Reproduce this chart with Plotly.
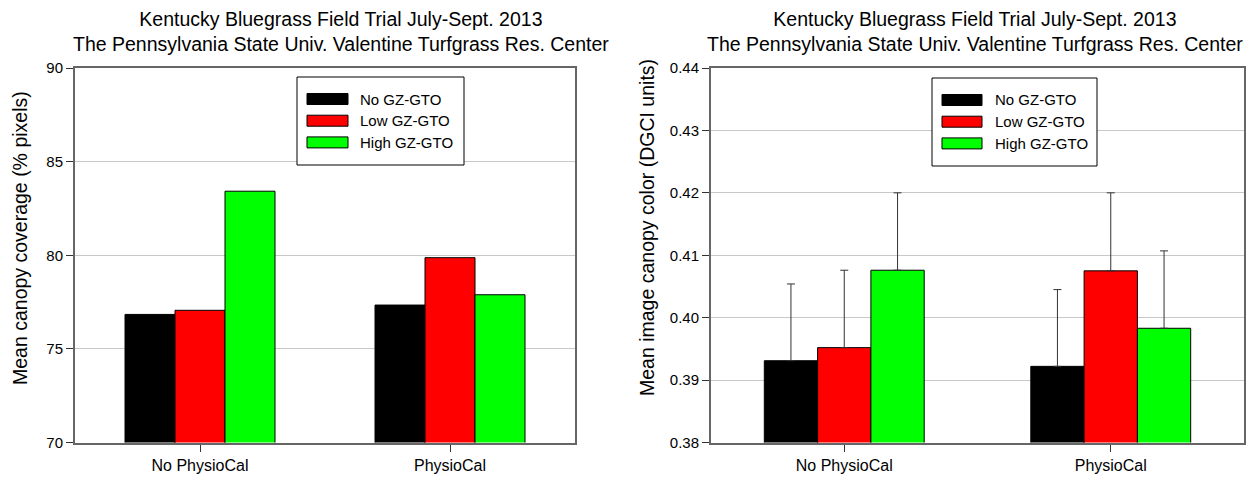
import plotly.graph_objects as go

# Treatments and series
categories = ["No PhysioCal", "PhysioCal"]
series_names = ["No GZ-GTO", "Low GZ-GTO", "High GZ-GTO"]
series_colors = ["#000000", "#ff0000", "#00ff00"]

# Mean canopy coverage (% pixels)
coverage_no_gz = [76.84, 77.34]
coverage_low_gz = [77.06, 79.87]
coverage_high_gz = [83.42, 77.89]

# Mean image canopy color (DGCI units) and upper error
dgci_no_gz = [0.3931, 0.3922]
dgci_low_gz = [0.3952, 0.4075]
dgci_high_gz = [0.4076, 0.3983]
dgci_err_no_gz = [0.0123, 0.0123]
dgci_err_low_gz = [0.0124, 0.0125]
dgci_err_high_gz = [0.0124, 0.0124]

coverage_ticks = [70, 75, 80, 85, 90]
dgci_ticks = [0.38, 0.39, 0.40, 0.41, 0.42, 0.43, 0.44]

title_text = ("Kentucky Bluegrass Field Trial July-Sept. 2013<br>"
              "The Pennsylvania State Univ. Valentine Turfgrass Res. Center")

FONT = "Liberation Sans, Arial, sans-serif"
W, H = 1253, 483

fig = go.Figure()

coverage = [coverage_no_gz, coverage_low_gz, coverage_high_gz]
dgci = [dgci_no_gz, dgci_low_gz, dgci_high_gz]
dgci_err = [dgci_err_no_gz, dgci_err_low_gz, dgci_err_high_gz]

for name, color, vals in zip(series_names, series_colors, coverage):
    fig.add_trace(go.Bar(
        x=categories, y=vals, name=name, marker_color=color,
        marker_line=dict(color="#000000", width=1),
        xaxis="x", yaxis="y", showlegend=False,
    ))

for name, color, vals, err in zip(series_names, series_colors, dgci, dgci_err):
    fig.add_trace(go.Bar(
        x=categories, y=vals, name=name, marker_color=color,
        marker_line=dict(color="#000000", width=1),
        error_y=dict(type="data", array=err, arrayminus=[0] * len(err),
                     symmetric=False, color="#333333", thickness=1, width=4),
        xaxis="x2", yaxis="y2", showlegend=False,
    ))

# pixel -> paper helpers for layout placement
def px(x):
    return x / W

def py(y):
    return 1 - y / H

left_dom = [px(75), px(575)]
right_dom = [px(711), px(1244)]
y_dom = [py(442.5), py(68)]

axis_common = dict(
    showline=True, linecolor="#666666", linewidth=2, mirror=True,
    ticks="outside", ticklen=7, tickcolor="#333333", zeroline=False,
    automargin=False,
)
xtick_font = dict(family=FONT, size=16, color="#000000")
ytick_font = dict(family=FONT, size=15, color="#000000")

fig.update_layout(
    width=W, height=H,
    margin=dict(l=0, r=0, t=0, b=0, autoexpand=False),
    paper_bgcolor="white", plot_bgcolor="white",
    barmode="group", bargap=0.4, bargroupgap=0,
    font=dict(family=FONT, color="#000000"),
    xaxis=dict(domain=left_dom, anchor="y", showgrid=False, tickfont=xtick_font,
               **axis_common),
    yaxis=dict(domain=y_dom, anchor="x", range=[70, 90], tickvals=coverage_ticks,
               tickfont=ytick_font, showgrid=True, gridcolor="#c8c8c8", gridwidth=1,
               **axis_common),
    xaxis2=dict(domain=right_dom, anchor="y2", showgrid=False, tickfont=xtick_font,
                **axis_common),
    yaxis2=dict(domain=y_dom, anchor="x2", range=[0.38, 0.44], tickvals=dgci_ticks,
                tickformat=".2f", tickfont=ytick_font, showgrid=True,
                gridcolor="#c8c8c8", gridwidth=1, **axis_common),
)

annotations = []
shapes = []

# Panel titles
for cx in (341, 975):
    annotations.append(dict(
        x=px(cx), y=py(31), xref="paper", yref="paper", text=title_text,
        showarrow=False, font=dict(family=FONT, size=19.5, color="#000000"),
        xanchor="center", yanchor="middle", align="center",
    ))

# Y-axis titles
annotations.append(dict(
    x=px(20), y=py(238), xref="paper", yref="paper",
    text="Mean canopy coverage (% pixels)", textangle=-90, showarrow=False,
    font=dict(family=FONT, size=19.5, color="#000000"),
    xanchor="center", yanchor="middle",
))
annotations.append(dict(
    x=px(647), y=py(228), xref="paper", yref="paper",
    text="Mean image canopy color (DGCI units)", textangle=-90, showarrow=False,
    font=dict(family=FONT, size=19.5, color="#000000"),
    xanchor="center", yanchor="middle",
))

# Boxed legends with wide swatches
for (bx0, bx1, by0, by1, sx0, sx1, tx) in [(297, 464, 77, 165, 307, 348, 358),
                                           (932, 1097, 78, 166, 942, 982, 993)]:
    shapes.append(dict(type="rect", xref="paper", yref="paper",
                       x0=px(bx0), x1=px(bx1), y0=py(by1), y1=py(by0),
                       line=dict(color="#000000", width=1), fillcolor="white",
                       layer="above"))
    for i, (name, color) in enumerate(zip(series_names, series_colors)):
        cy = by0 + 22 + i * 21.7
        shapes.append(dict(type="rect", xref="paper", yref="paper",
                           x0=px(sx0), x1=px(sx1), y0=py(cy + 5.5), y1=py(cy - 5.5),
                           line=dict(color="#000000", width=1), fillcolor=color,
                           layer="above"))
        annotations.append(dict(
            x=px(tx), y=py(cy), xref="paper", yref="paper", text=name,
            showarrow=False, font=dict(family=FONT, size=15, color="#000000"),
            xanchor="left", yanchor="middle",
        ))

fig.update_layout(annotations=annotations, shapes=shapes)

fig.write_html("out.html")
